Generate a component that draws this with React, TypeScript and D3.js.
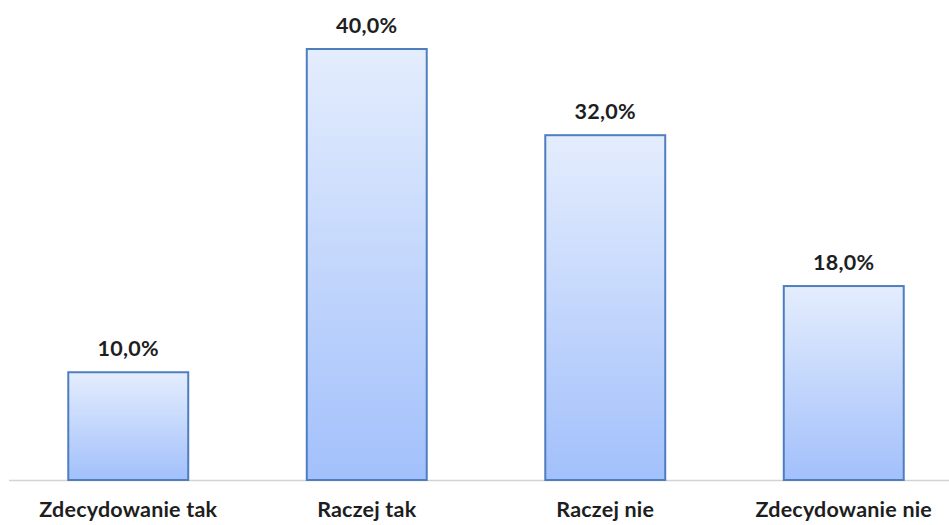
import React from "react";
import * as d3 from "d3";

const categories = ["Zdecydowanie tak", "Raczej tak", "Raczej nie", "Zdecydowanie nie"];
const values = [10.0, 40.0, 32.0, 18.0];

const W = 949;
const H = 525;

export default function App() {
  const x = d3.scaleBand<string>().domain(categories).range([9, 963]).paddingInner(0.497).paddingOuter(0.2485);
  const y = d3.scaleLinear().domain([0, 40]).range([480, 49]);
  const fmt = (v: number) => v.toFixed(1).replace(".", ",") + "%";
  const font = "Lato, 'Open Sans', sans-serif";
  return (
    <svg width={W} height={H} style={{ position: "absolute", left: 0, top: 0, background: "#fff" }}>
      <defs>
        <linearGradient id="barGrad" x1="0" y1="0" x2="0" y2="1">
          <stop offset="0%" stopColor="#e4edfd" />
          <stop offset="100%" stopColor="#a2c0fb" />
        </linearGradient>
      </defs>
      <line x1={9} x2={W} y1={480.5} y2={480.5} stroke="#d4d4d4" strokeWidth={1.5} />
      {categories.map((c, i) => {
        const bx = x(c)!;
        const bw = x.bandwidth();
        const top = y(values[i]);
        return (
          <g key={c}>
            <rect x={bx} y={top} width={bw} height={y(0) - top} fill="url(#barGrad)" stroke="#4f7ebf" strokeWidth={2} />
            <text x={bx + bw / 2} y={top - 16} textAnchor="middle" fontFamily={font} fontWeight="bold" fontSize={21.5} letterSpacing={0.3} fill="#1e1e1e">
              {fmt(values[i])}
            </text>
            <text x={bx + bw / 2} y={517} textAnchor="middle" fontFamily={font} fontWeight="bold" fontSize={21.5} letterSpacing={0.2} fill="#1e1e1e">
              {c}
            </text>
          </g>
        );
      })}
    </svg>
  );
}
